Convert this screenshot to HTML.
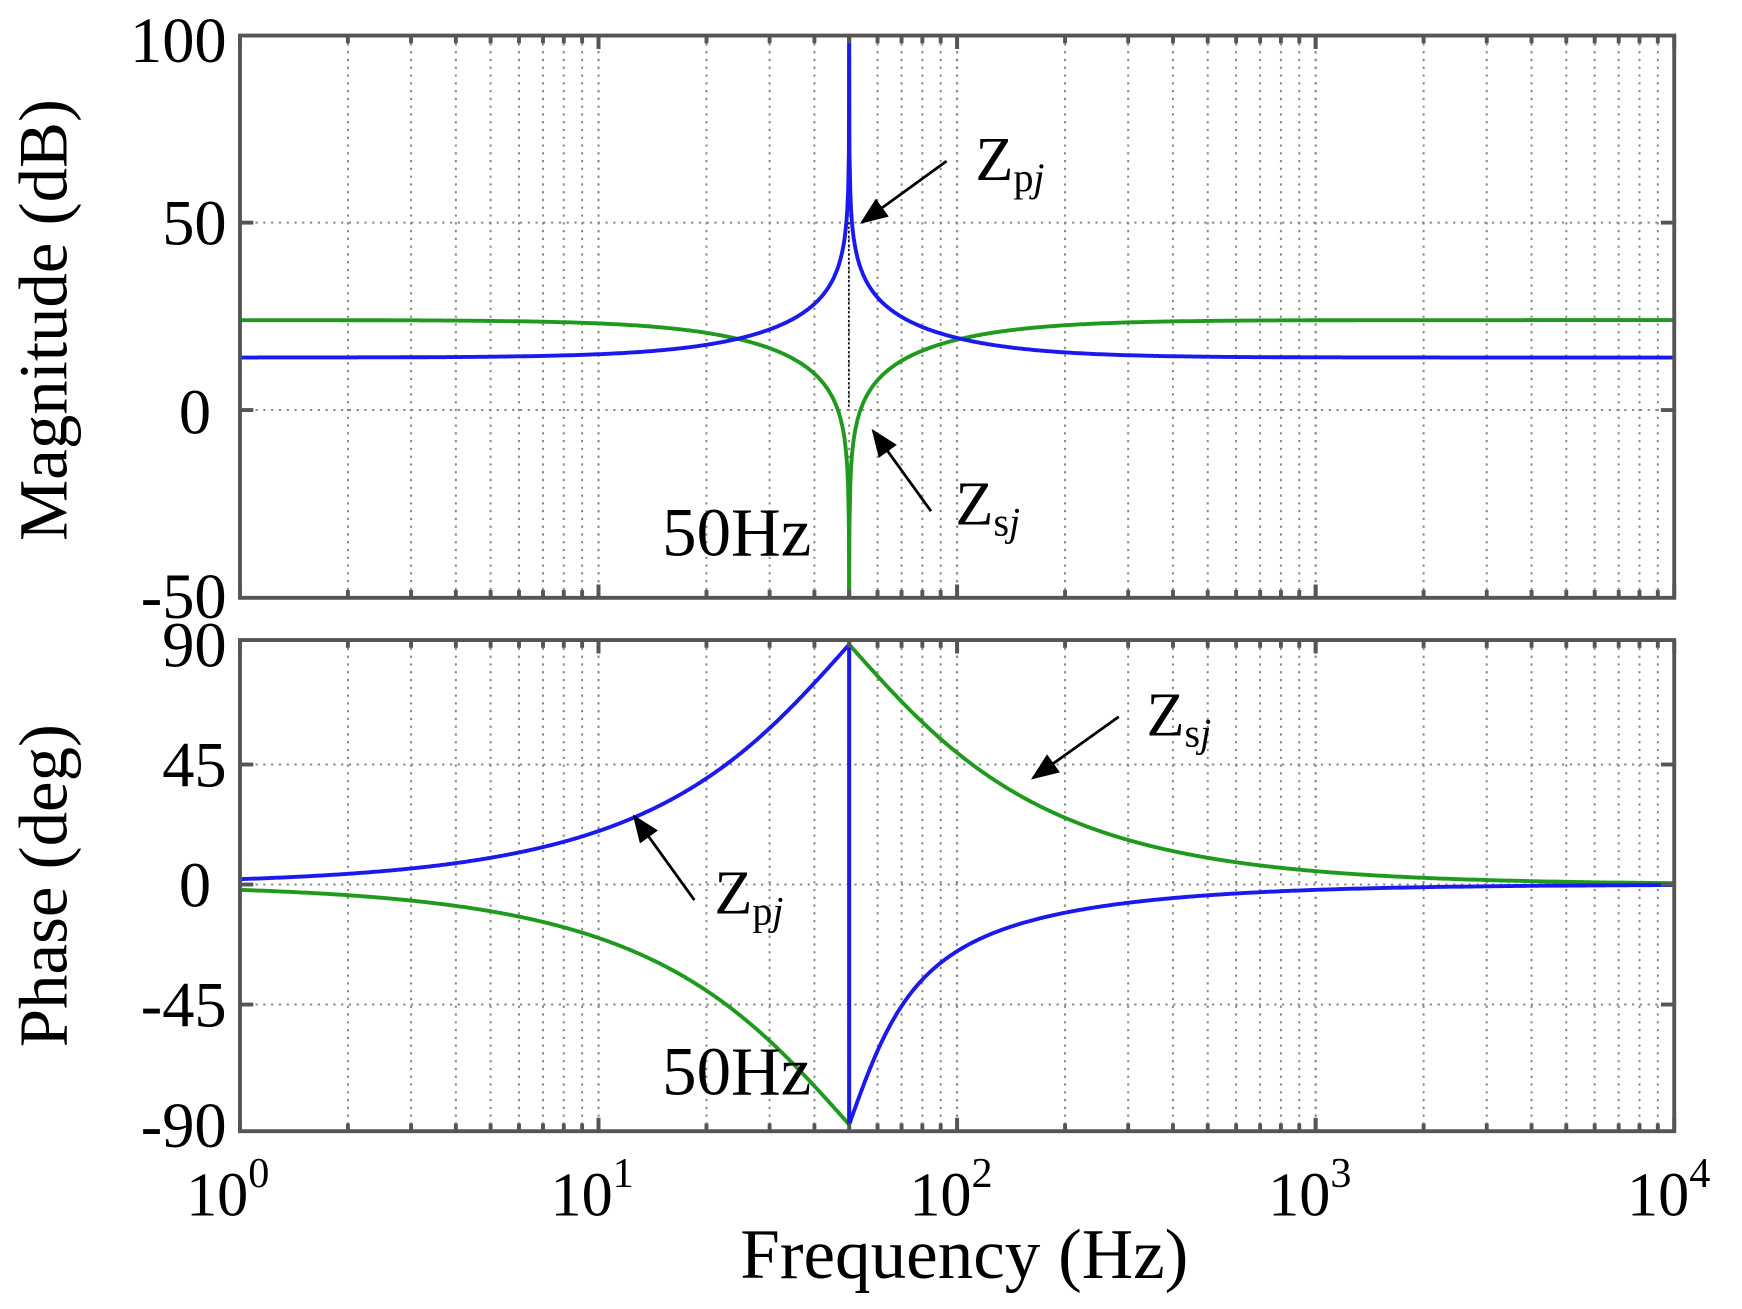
<!DOCTYPE html>
<html><head><meta charset="utf-8"><style>
html,body{margin:0;padding:0;background:#fff;}
svg{display:block;}
text{font-family:"Liberation Serif",serif;fill:#000;}
</style></head><body>
<svg id="s" width="1742" height="1309" viewBox="0 0 1568 1178" preserveAspectRatio="none" xmlns="http://www.w3.org/2000/svg">
<defs><marker id="ah" markerWidth="10" markerHeight="8" refX="9" refY="4" orient="auto" markerUnits="strokeWidth"><path d="M0,0 L10,4 L0,8 Z" fill="#000"/></marker></defs>
<g id="grid" stroke="#888" stroke-width="1.8" stroke-dasharray="2,5"></g>
<g id="curves" fill="none" stroke-width="3.5"></g>
<g id="frames" fill="none" stroke="#555" stroke-width="3.5"></g>
<g font-size="58" text-anchor="end">
<text x="204" y="56">100</text><text x="204" y="220">50</text><text x="190" y="390">0</text><text x="204" y="556">-50</text>
<text x="204" y="600">90</text><text x="204" y="708">45</text><text x="190" y="816">0</text><text x="204" y="924">-45</text><text x="204" y="1032">-90</text>
</g>
<g font-size="56" text-anchor="middle">
<text x="205" y="1094">10<tspan font-size="38" dy="-26">0</tspan></text>
<text x="533" y="1094">10<tspan font-size="38" dy="-26">1</tspan></text>
<text x="856" y="1094">10<tspan font-size="38" dy="-26">2</tspan></text>
<text x="1179" y="1094">10<tspan font-size="38" dy="-26">3</tspan></text>
<text x="1502" y="1094">10<tspan font-size="38" dy="-26">4</tspan></text>
<text x="868" y="1150" font-size="64">Frequency  (Hz)</text>
</g>
<text font-size="62" text-anchor="middle" transform="translate(60,288) rotate(-90)">Magnitude (dB)</text>
<text font-size="62" text-anchor="middle" transform="translate(60,797) rotate(-90)">Phase (deg)</text>
<g font-size="56">
<text x="878" y="162">Z<tspan font-size="36" dy="10">p<tspan font-style="italic">j</tspan></tspan></text>
<text x="860" y="472">Z<tspan font-size="36" dy="10">s<tspan font-style="italic">j</tspan></tspan></text>
<text x="1032" y="662">Z<tspan font-size="36" dy="10">s<tspan font-style="italic">j</tspan></tspan></text>
<text x="643" y="822">Z<tspan font-size="36" dy="10">p<tspan font-style="italic">j</tspan></tspan></text>
</g>
<g font-size="62">
<text x="596" y="500">50Hz</text>
<text x="596" y="985">50Hz</text>
</g>
<g stroke="#000" stroke-width="2.5" marker-end="url(#ah)">
<line x1="852" y1="145" x2="776" y2="200"/>
<line x1="838" y1="460" x2="786" y2="388"/>
<line x1="1007" y1="645" x2="930" y2="700"/>
<line x1="625" y1="810" x2="571" y2="735"/>
</g>
<line x1="764" y1="200" x2="764" y2="368" stroke="#000" stroke-width="1.5" stroke-dasharray="2,2"/>
</svg>
<script>
var X0=216,X1=1507,D=(X1-X0)/4;
function xf(f){return X0+Math.log10(f)*D;}
var T1=32,B1=538,T2=576,B2=1018;
function ym(db){return 369-db*3.373;}
function yp(d){return 796-d*2.4;}
var g=document.getElementById('grid'),h='';
for(var d=0;d<4;d++)for(var k=1;k<=10;k++){var x=xf(Math.pow(10,d)*k);if(x<=X0+1||x>=X1-1)continue;
h+='<line x1="'+x+'" y1="'+T1+'" x2="'+x+'" y2="'+B1+'"/><line x1="'+x+'" y1="'+T2+'" x2="'+x+'" y2="'+B2+'"/>';}
[50,0].forEach(function(v){h+='<line x1="'+X0+'" y1="'+ym(v)+'" x2="'+X1+'" y2="'+ym(v)+'"/>';});
[45,0,-45].forEach(function(v){h+='<line x1="'+X0+'" y1="'+yp(v)+'" x2="'+X1+'" y2="'+yp(v)+'"/>';});
g.innerHTML=h;
var fr='<rect x="'+X0+'" y="'+T1+'" width="'+(X1-X0)+'" height="'+(B1-T1)+'"/><rect x="'+X0+'" y="'+T2+'" width="'+(X1-X0)+'" height="'+(B2-T2)+'"/>';
for(var d=0;d<4;d++)for(var k=1;k<=10;k++){var x=xf(Math.pow(10,d)*k);var L=(k==1||k==10)?12:7;
[[T1,B1],[T2,B2]].forEach(function(p){fr+='<line x1="'+x+'" y1="'+p[0]+'" x2="'+x+'" y2="'+(p[0]+L)+'"/><line x1="'+x+'" y1="'+p[1]+'" x2="'+x+'" y2="'+(p[1]-L)+'"/>';});}
[ym(50),ym(0),yp(45),yp(0),yp(-45)].forEach(function(y){fr+='<line x1="'+X0+'" y1="'+y+'" x2="'+(X0+12)+'" y2="'+y+'"/><line x1="'+X1+'" y1="'+y+'" x2="'+(X1-12)+'" y2="'+y+'"/>';});
document.getElementById('frames').innerHTML=fr;
function bmag(f){var u=Math.abs(f/50-50/f);if(u<1e-6)return 200;return 10*Math.log10(25.1+Math.pow(11.5/u,2));}
function clip(v,a,b){return Math.max(a,Math.min(b,v));}
var pb1=[],pg1=[],pb2=[],pg2=[],pb3=[],pg3=[];
for(var i=0;i<=800;i++){var f=Math.pow(10,i*Math.log10(49.9)/800);
var m=bmag(f);pb1.push([xf(f),ym(clip(m,-50,100))]);pg1.push([xf(f),ym(clip(38-m,-50,100))]);
var u=50/f-f/50;var ph=Math.atan(1.75/u)*180/Math.PI;pb2.push([xf(f),yp(ph)]);pg2.push([xf(f),yp(-ph)]);}
var pb1r=[],pg1r=[];
for(var i=0;i<=1000;i++){var f=50.1*Math.pow(10,i*Math.log10(10000/50.1)/1000);
var m=bmag(f);pb1r.push([xf(f),ym(clip(m,-50,100))]);pg1r.push([xf(f),ym(clip(38-m,-50,100))]);
var u=f/50-50/f;pb3.push([xf(f),yp(-Math.atan(0.7/u)*180/Math.PI)]);pg3.push([xf(f),yp(Math.atan(1.75/u)*180/Math.PI)]);}
function P(a){return 'M'+a.map(function(p){return p[0].toFixed(1)+','+p[1].toFixed(1)}).join(' L');}
var xc=xf(50),c='';
c+='<path stroke="#1f9a1f" d="'+P(pg1)+' L'+xc+','+ym(-50)+'"/>';
c+='<path stroke="#1f9a1f" d="M'+xc+','+ym(-50)+' '+P(pg1r).slice(1)+'"/>';
c+='<path stroke="#1f9a1f" d="'+P(pg2)+' L'+xc+','+yp(-90)+' L'+xc+','+yp(90)+' '+P(pg3).replace('M','L')+'"/>';
c+='<path stroke="#1a1aee" d="'+P(pb1)+' L'+xc+','+ym(100)+'"/>';
c+='<path stroke="#1a1aee" d="M'+xc+','+ym(100)+' '+P(pb1r).slice(1)+'"/>';
c+='<path stroke="#1a1aee" d="'+P(pb2)+' L'+xc+','+yp(90)+' L'+xc+','+yp(-90)+' '+P(pb3).replace('M','L')+'"/>';
document.getElementById('curves').innerHTML=c;
</script>
</body></html>
